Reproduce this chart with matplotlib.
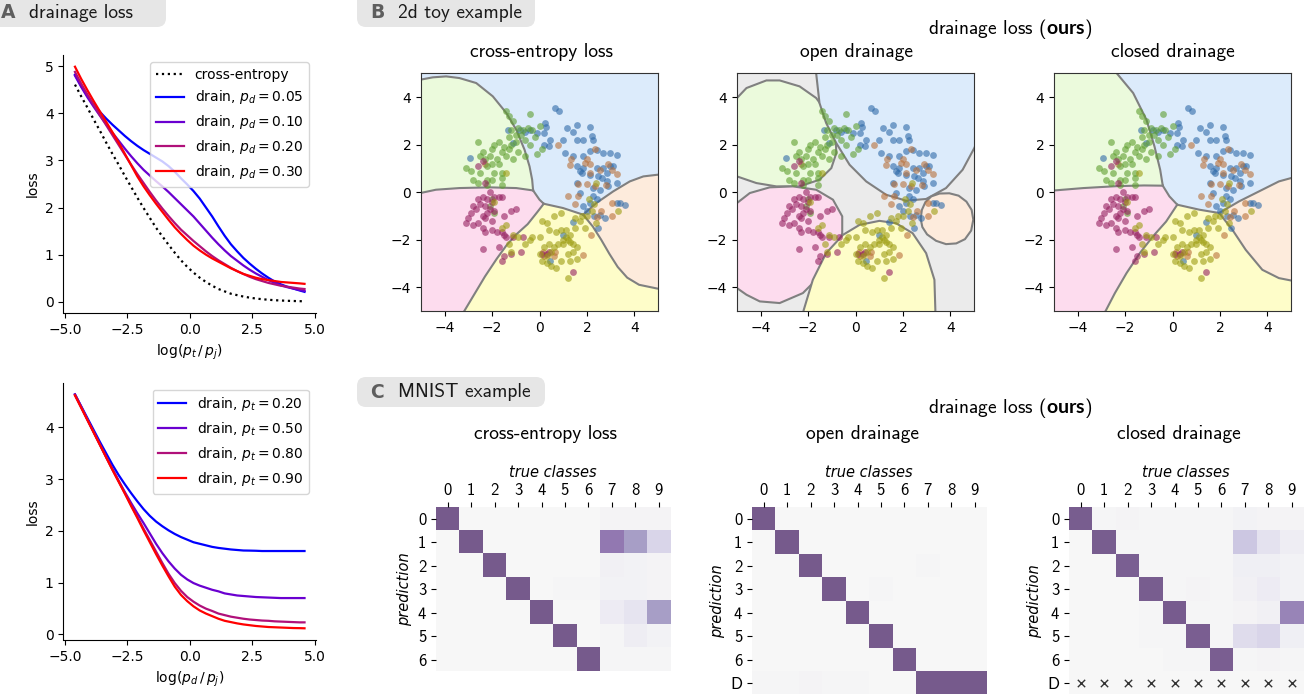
import matplotlib
matplotlib.use("Agg")
import matplotlib.pyplot as plt
from matplotlib.patches import FancyBboxPatch
from matplotlib.colors import LinearSegmentedColormap

plt.rcParams["font.family"] = "DejaVu Sans"
plt.rcParams["mathtext.fontset"] = "custom"
plt.rcParams["mathtext.rm"] = "DejaVu Sans"
plt.rcParams["mathtext.it"] = "DejaVu Sans:italic"
plt.rcParams["mathtext.bf"] = "Lato:bold"

W, H = 1313, 694
TITLE_FONT = "cmss10"

# ---------------- panel A: loss curves ----------------
log_ratio = [-4.6, -4.35, -4.1, -3.85, -3.6, -3.35, -3.1, -2.85, -2.6, -2.35, -2.1, -1.85, -1.6,
             -1.35, -1.1, -0.85, -0.6, -0.35, -0.1, 0.15, 0.4, 0.65, 0.9, 1.15, 1.4, 1.65, 1.9,
             2.15, 2.4, 2.65, 2.9, 3.15, 3.4, 3.65, 3.9, 4.15, 4.4, 4.6]
ce_loss = [4.61, 4.36, 4.12, 3.87, 3.63, 3.38, 3.14, 2.91, 2.67, 2.44, 2.21, 1.99, 1.78,
           1.57, 1.39, 1.21, 1.04, 0.88, 0.74, 0.62, 0.51, 0.42, 0.34, 0.27, 0.22, 0.17, 0.14,
           0.11, 0.087, 0.068, 0.054, 0.042, 0.033, 0.026, 0.02, 0.016, 0.012, 0.01]
p_d_values = ["0.05", "0.10", "0.20", "0.30"]
drain_pd = [
    [4.82, 4.58, 4.37, 4.18, 4.03, 3.89, 3.76, 3.64, 3.52, 3.41, 3.31, 3.22, 3.14,
     3.06, 2.98, 2.88, 2.76, 2.62, 2.49, 2.35, 2.19, 2.00, 1.81, 1.60, 1.40, 1.22, 1.07,
     0.93, 0.81, 0.70, 0.60, 0.51, 0.43, 0.37, 0.32, 0.28, 0.24, 0.21],
    [4.80, 4.56, 4.34, 4.14, 3.95, 3.77, 3.59, 3.42, 3.25, 3.09, 2.94, 2.80, 2.68,
     2.56, 2.45, 2.33, 2.20, 2.07, 1.94, 1.81, 1.66, 1.51, 1.36, 1.22, 1.09, 0.97, 0.87,
     0.77, 0.68, 0.60, 0.53, 0.46, 0.40, 0.35, 0.31, 0.28, 0.25, 0.23],
    [4.88, 4.63, 4.40, 4.18, 3.96, 3.75, 3.54, 3.33, 3.12, 2.91, 2.71, 2.52, 2.33,
     2.15, 1.98, 1.82, 1.67, 1.53, 1.41, 1.29, 1.18, 1.07, 0.97, 0.88, 0.80, 0.72, 0.65,
     0.59, 0.53, 0.48, 0.44, 0.40, 0.37, 0.34, 0.32, 0.30, 0.28, 0.27],
    [4.99, 4.73, 4.49, 4.26, 4.04, 3.82, 3.60, 3.38, 3.14, 2.90, 2.66, 2.45, 2.26,
     2.08, 1.91, 1.74, 1.58, 1.44, 1.31, 1.19, 1.09, 1.00, 0.92, 0.85, 0.78, 0.71, 0.65,
     0.59, 0.55, 0.51, 0.48, 0.46, 0.44, 0.42, 0.41, 0.40, 0.39, 0.38],
]
p_t_values = ["0.20", "0.50", "0.80", "0.90"]
drain_pt = [
    [4.64, 4.41, 4.18, 3.95, 3.72, 3.50, 3.28, 3.08, 2.90, 2.73, 2.57, 2.42, 2.29,
     2.18, 2.09, 2.01, 1.94, 1.88, 1.83, 1.78, 1.75, 1.72, 1.69, 1.67, 1.655, 1.64, 1.63,
     1.62, 1.618, 1.615, 1.61, 1.61, 1.61, 1.61, 1.61, 1.61, 1.61, 1.61],
    [4.64, 4.40, 4.15, 3.91, 3.67, 3.43, 3.20, 2.97, 2.75, 2.54, 2.34, 2.15, 1.95,
     1.75, 1.57, 1.41, 1.27, 1.15, 1.06, 0.99, 0.94, 0.90, 0.86, 0.83, 0.79, 0.77, 0.75,
     0.74, 0.73, 0.72, 0.715, 0.71, 0.705, 0.70, 0.70, 0.70, 0.70, 0.70],
    [4.63, 4.39, 4.15, 3.91, 3.67, 3.43, 3.19, 2.96, 2.73, 2.50, 2.27, 2.04, 1.82,
     1.60, 1.38, 1.17, 0.99, 0.84, 0.72, 0.63, 0.555, 0.495, 0.45, 0.40, 0.37, 0.34, 0.32,
     0.30, 0.285, 0.275, 0.265, 0.26, 0.25, 0.245, 0.24, 0.235, 0.23, 0.23],
    [4.62, 4.38, 4.14, 3.90, 3.66, 3.42, 3.18, 2.95, 2.72, 2.48, 2.25, 2.01, 1.78,
     1.55, 1.33, 1.12, 0.92, 0.76, 0.64, 0.54, 0.46, 0.40, 0.35, 0.30, 0.26, 0.235, 0.21,
     0.19, 0.175, 0.16, 0.15, 0.14, 0.135, 0.13, 0.125, 0.12, 0.118, 0.115],
]
line_colors = ["#0000ff", "#6a00d0", "#b0107a", "#ff0000"]

# ---------------- panel B: 2d toy data ----------------
blue_pts = [(0.66, 3.54), (0.84, 3.40), (0.24, 2.91), (0.28, 2.74), (1.57, 2.84), (2.13, 2.74), (1.15, 2.69),
            (1.43, 2.55), (0.17, 2.48), (-0.11, 2.48), (-0.39, 2.62), (-0.60, 2.55), (-0.81, 2.62), (0.45, 2.20),
            (1.01, 2.20), (1.57, 2.20), (1.85, 2.20), (2.27, 2.20), (2.20, 2.37), (0.17, 1.99), (0.38, 1.92),
            (1.08, 1.64), (1.43, 1.50), (1.85, 1.50), (2.13, 1.71), (2.41, 1.78), (2.69, 1.64), (2.97, 1.64),
            (3.25, 1.57), (1.57, 1.08), (1.85, 1.01), (1.71, 0.87), (1.78, 0.80), (2.13, 0.73), (2.41, 1.01),
            (2.69, 1.01), (2.83, 0.80), (2.97, 1.08), (3.11, 1.08), (2.48, 0.66), (2.62, 0.59), (2.83, 0.45),
            (2.90, 0.24), (2.27, 0.17), (2.55, 0.10), (3.25, 0.38), (1.57, 0.38), (1.71, -0.04), (2.27, -0.18),
            (2.41, -0.31), (2.13, -0.46), (1.85, -0.60), (2.00, -0.81), (3.25, -0.46), (3.40, -0.46),
            (3.61, -0.53), (2.55, -0.95), (2.76, -1.10), (2.48, -1.52), (1.43, -1.24), (0.98, -1.80),
            (0.45, -2.90), (-2.92, 1.43), (-1.35, 2.60), (-1.10, 2.05), (2.30, -1.00)]
orange_pts = [(0.78, 1.99), (1.28, 1.12), (1.91, 1.22), (2.12, 1.18), (2.02, 1.40), (2.36, 1.82), (1.63, 0.34),
              (2.33, 0.24), (2.01, 0.35), (2.15, 0.79), (2.55, 0.91), (3.07, 0.94), (3.29, 0.77), (1.22, -0.18),
              (1.63, -0.18), (3.07, -0.46), (3.08, -1.02), (2.43, -1.05), (2.19, -1.80), (1.84, -2.64),
              (0.64, -2.50), (0.15, -2.50), (2.60, -0.80), (1.50, -0.50), (2.80, 0.30), (1.35, 1.40),
              (2.90, 1.20), (0.20, -2.70), (0.60, -2.70), (-2.30, 1.20)]
green_pts = [(-1.4, 3.4), (-1.3, 3.2), (-1.1, 3.0), (-0.9, 2.7), (-0.4, 3.3), (-0.5, 2.7), (-0.3, 2.6),
             (-0.7, 2.6), (-1.2, 2.6), (-1.0, 2.4), (-1.3, 2.3), (-1.2, 2.0), (-1.0, 2.1), (-0.8, 2.4),
             (-1.5, 1.9), (-1.7, 2.1), (-1.9, 2.0), (-2.1, 1.5), (-2.3, 1.4), (-2.5, 1.5), (-2.0, 1.8),
             (-1.6, 1.7), (-1.4, 1.5), (-1.1, 1.4), (-1.8, 1.4), (-2.0, 1.2), (-2.2, 1.1), (-2.6, 2.1),
             (-2.9, 0.9), (-3.1, 1.0), (-2.8, 0.5), (-2.6, 0.4), (-2.2, 0.5), (-2.0, 0.5), (-2.5, 0.8),
             (-1.9, 0.8), (-1.6, 0.8), (-1.6, 0.6), (-1.6, 0.3), (-2.2, 0.3), (-0.1, 1.6), (-0.6, 1.5),
             (0.1, 1.8), (-0.4, 2.0), (-0.9, 1.7), (-2.0, -0.3), (-2.1, -0.6), (-1.9, -0.9), (-1.7, 1.2),
             (-2.4, 1.7), (-1.3, 1.8), (-0.6, 2.2), (0.0, 2.8), (-0.2, 2.3)]
magenta_pts = [(-2.4, 1.3), (-2.6, 1.1), (-2.3, 0.4), (-2.4, -0.2), (-2.6, -0.3), (-2.2, -0.3), (-2.0, -0.4),
               (-1.9, -0.2), (-1.7, -0.2), (-1.6, -0.2), (-2.5, -0.5), (-2.3, -0.6), (-2.1, -0.7),
               (-1.9, -0.8), (-2.2, -0.9), (-2.7, -0.7), (-2.9, -0.9), (-3.0, -1.1), (-2.6, -1.3),
               (-2.3, -1.1), (-2.0, -1.2), (-1.5, -1.0), (-1.2, -0.8), (-1.0, -0.7), (-2.8, -1.4),
               (-2.4, -1.5), (-2.0, -1.6), (-1.8, -1.7), (-1.6, -1.7), (-1.5, -1.8), (-1.4, -1.9),
               (-2.3, -1.7), (-1.1, -1.9), (-0.7, -1.9), (-2.4, -2.4), (-1.7, -2.3), (-1.5, -2.7),
               (-1.2, -2.6), (-0.8, -2.5), (-1.6, -2.9), (-3.1, -1.3), (-2.8, -0.6), (-2.4, -1.0),
               (0.1, -2.6), (0.3, -2.6), (0.4, -2.5), (1.4, -3.35), (-2.1, 0.0)]
olive_pts = [(-1.6, -1.5), (-1.4, -1.4), (-1.1, -1.8), (-0.9, -1.9), (-1.3, -2.2), (-1.2, -2.5), (-0.6, -2.2),
             (-0.3, -1.9), (0.0, -1.9), (0.1, -1.2), (0.3, -1.3), (0.6, -1.0), (0.9, -0.9), (0.4, -1.6),
             (0.7, -1.7), (0.9, -1.6), (1.1, -1.6), (1.3, -1.8), (1.5, -1.5), (1.7, -1.2), (1.5, -1.1),
             (1.8, -1.0), (2.0, -1.0), (2.2, -0.8), (1.9, -1.5), (1.0, -2.0), (1.2, -2.0), (1.4, -2.2),
             (1.6, -2.3), (1.0, -2.2), (0.8, -2.2), (0.6, -2.3), (0.4, -2.2), (0.2, -2.3), (0.5, -2.5),
             (0.3, -2.7), (0.1, -2.9), (0.0, -2.6), (0.9, -2.9), (1.2, -2.6), (1.4, -2.5), (1.3, -2.9),
             (1.6, -2.8), (1.2, -3.6), (0.5, -3.1), (0.3, -3.0), (2.3, -0.5), (2.1, -0.3), (2.4, 0.4),
             (3.3, -0.8), (-1.4, 0.8), (0.7, -3.2), (1.1, -1.9), (1.3, -2.1), (-1.9, -0.4), (-0.4, -2.0),
             (2.4, -1.3)]
point_sets = [blue_pts, orange_pts, green_pts, magenta_pts, olive_pts]
point_colors = ["#2f6aa8", "#b8703a", "#5e9e2e", "#94205f", "#9c9c10"]

region_colors = {"blue": "#dcebfb", "green": "#ebfadc", "pink": "#fddcee",
                 "yellow": "#fefdc9", "peach": "#fdebdc", "drain": "#ebebeb"}

# decision boundaries, cross-entropy model
ce_bounds = {
    "gb": [(-6, 4.6), (-5.03, 4.73), (-4.5, 4.83), (-3.94, 4.87), (-3.38, 4.80), (-2.67, 4.59), (-1.97, 4.03),
           (-1.40, 3.33), (-0.98, 2.62), (-0.63, 1.78), (-0.42, 1.08), (-0.31, 0.52), (-0.27, 0.07)],
    "gp": [(-6, -0.15), (-5.03, -0.04), (-4.37, 0.10), (-3.38, 0.17), (-2.11, 0.20), (-0.98, 0.17), (-0.27, 0.07)],
    "jj": [(-0.27, 0.07), (0.0, -0.32), (0.18, -0.49)],
    "py": [(0.18, -0.49), (-0.1, -0.85), (-0.5, -1.35), (-1.0, -1.8), (-1.4, -2.25), (-1.8, -2.8),
           (-2.3, -3.55), (-2.75, -4.3), (-3.17, -5.0), (-3.8, -6.0)],
    "by": [(0.18, -0.49), (0.99, -0.67), (1.84, -0.95)],
    "bpe": [(1.84, -0.95), (2.40, -0.46), (3.11, 0.03), (3.81, 0.45), (4.38, 0.66), (4.97, 0.73), (6, 0.78)],
    "ype": [(1.84, -0.95), (2.25, -1.45), (2.6, -2.0), (2.95, -2.6), (3.3, -3.15), (3.7, -3.6), (4.2, -3.9),
            (4.97, -4.06), (6, -4.1)],
}
# decision boundaries, closed drainage model
closed_bounds = {
    "gb": [(-6, 6), (-2.7, 5.35), (-2.36, 5.01), (-1.66, 4.17), (-1.10, 3.05), (-0.76, 1.92), (-0.52, 0.94),
           (-0.41, 0.27)],
    "gp": [(-6, -0.02), (-4.98, 0.07), (-3.76, 0.17), (-2.36, 0.25), (-1.2, 0.28), (-0.41, 0.27)],
    "jj": [(-0.41, 0.27), (-0.13, -0.18), (0.20, -0.53)],
    "py": [(0.20, -0.53), (-0.27, -1.24), (-0.83, -1.87), (-1.38, -2.57), (-1.94, -3.41), (-2.43, -4.25),
           (-2.81, -4.98), (-3.4, -6)],
    "by": [(0.20, -0.53), (1.13, -0.74), (1.97, -0.88)],
    "bpe": [(1.97, -0.88), (2.81, -0.39), (3.65, 0.03), (4.49, 0.45), (5.0, 0.59), (6, 0.8)],
    "ype": [(1.97, -0.88), (2.53, -1.59), (3.09, -2.43), (3.79, -3.27), (4.49, -3.62), (5.0, -3.72), (6, -3.8)],
}
# open drainage: class regions are closed blobs, the rest is drained
open_blobs = {
    "green": [(-6, 3.9), (-5.0, 3.96), (-4.6, 4.38), (-3.76, 4.70), (-3.2, 4.70), (-2.36, 4.45), (-1.66, 3.96),
              (-1.09, 3.19), (-0.84, 2.34), (-0.81, 1.64), (-1.02, 1.01), (-1.52, 0.52), (-2.36, 0.24),
              (-3.34, 0.24), (-4.18, 0.38), (-5.0, 0.66), (-6, 0.8)],
    "pink": [(-6, -0.6), (-5.0, -0.46), (-4.46, -0.04), (-3.62, 0.20), (-2.64, 0.24), (-1.66, 0.10),
             (-0.95, -0.32), (-0.56, -1.02), (-0.56, -1.73), (-0.81, -2.57), (-1.38, -3.41), (-2.22, -4.25),
             (-3.2, -4.67), (-4.04, -4.60), (-4.6, -4.32), (-5.0, -4.04), (-6, -3.5)],
    "yellow": [(-2.35, -6), (-2.19, -4.98), (-1.80, -3.69), (-1.24, -2.57), (-0.53, -1.80), (0.17, -1.38),
               (1.01, -1.21), (1.71, -1.31), (2.41, -1.73), (2.98, -2.57), (3.33, -3.69), (3.37, -4.98),
               (3.35, -6)],
    "blue": [(-1.7, 6), (-1.66, 5.0), (-1.52, 3.75), (-1.24, 2.91), (-0.81, 2.06), (-0.25, 1.15), (0.45, 0.45),
             (1.29, -0.11), (2.13, -0.36), (2.98, -0.29), (3.82, 0.17), (4.52, 0.94), (5.01, 1.85),
             (5.6, 3.2), (6, 6)],
    "peach": [(2.75, -1.12), (2.80, -0.75), (2.95, -0.42), (3.20, -0.18), (3.55, -0.06), (3.96, -0.05),
              (4.35, -0.15), (4.68, -0.40), (4.90, -0.75), (4.97, -1.16), (4.88, -1.62), (4.62, -1.98),
              (4.25, -2.16), (3.82, -2.19), (3.40, -2.05), (3.02, -1.78), (2.82, -1.47)],
}

# ---------------- panel C: MNIST confusion matrices ----------------
true_classes = ["0", "1", "2", "3", "4", "5", "6", "7", "8", "9"]
pred_ce = ["0", "1", "2", "3", "4", "5", "6"]
pred_drain = ["0", "1", "2", "3", "4", "5", "6", "D"]
ce_matrix = [
    [1, 0, 0, 0, 0, 0, 0, 0.02, 0.02, 0.02],
    [0, 1, 0, 0, 0, 0, 0, 0.55, 0.40, 0.18],
    [0, 0, 1, 0, 0, 0, 0, 0.04, 0.03, 0.02],
    [0, 0, 0, 1, 0, 0.01, 0.01, 0.03, 0.03, 0.02],
    [0, 0, 0, 0, 1, 0, 0, 0.07, 0.11, 0.40],
    [0, 0, 0, 0, 0, 1, 0, 0.01, 0.06, 0.03],
    [0, 0, 0, 0, 0, 0, 1, 0.01, 0.01, 0.01],
]
open_matrix = [
    [1, 0, 0, 0, 0, 0, 0, 0, 0, 0],
    [0, 1, 0, 0, 0, 0, 0, 0, 0, 0],
    [0, 0, 1, 0, 0, 0, 0, 0.01, 0, 0],
    [0, 0, 0, 1, 0, 0.01, 0, 0, 0, 0],
    [0, 0, 0, 0, 1, 0, 0, 0, 0, 0],
    [0, 0, 0, 0, 0, 1, 0, 0, 0, 0],
    [0, 0, 0, 0, 0, 0, 1, 0, 0, 0],
    [0.01, 0.01, 0.02, 0.01, 0.01, 0, 0, 1, 1, 1],
]
closed_matrix = [
    [0.95, 0.01, 0.02, 0.01, 0.01, 0.01, 0.01, 0.03, 0.02, 0.02],
    [0, 0.95, 0.01, 0.01, 0.01, 0.01, 0.01, 0.25, 0.12, 0.06],
    [0, 0, 0.92, 0.01, 0.01, 0.01, 0.01, 0.05, 0.05, 0.03],
    [0, 0, 0, 0.95, 0.01, 0.02, 0.01, 0.04, 0.07, 0.03],
    [0, 0, 0, 0.01, 0.97, 0.01, 0.01, 0.02, 0.04, 0.50],
    [0, 0, 0, 0.01, 0.01, 0.93, 0.01, 0.15, 0.18, 0.05],
    [0, 0, 0, 0, 0.01, 0.01, 0.93, 0.01, 0.02, 0.01],
    [0, 0, 0, 0, 0, 0, 0, 0, 0, 0],
]

cmap = LinearSegmentedColormap.from_list(
    "soft_purples", [(0, "#f7f7f7"), (0.1, "#e8e6f1"), (0.25, "#cdc8e3"), (0.4, "#a79ec6"),
                     (0.55, "#9278b1"), (1.0, "#765a8c")])


def add_axes(left, top, width, height):
    return fig.add_axes([left / W, 1 - (top + height) / H, width / W, height / H])


def pill(x0, x1, y0, y1, text_y, letter, label):
    p = FancyBboxPatch((x0 / 100, (H - y1) / 100), (x1 - x0) / 100, (y1 - y0) / 100,
                       boxstyle="round,pad=0,rounding_size=0.09", transform=fig.dpi_scale_trans,
                       fc="#e6e6e6", ec="none")
    fig.add_artist(p)
    yc = 1 - text_y / H
    fig.text((x0 + 13) / W, yc, letter, ha="left", va="center", fontsize=13.5,
             fontweight="heavy", color="#5e5e5e")
    fig.text((x0 + 41) / W, yc, label, ha="left", va="center", fontsize=14,
             family=TITLE_FONT, color="#1a1a1a")


def title(xc, yc, text):
    fig.text(xc / W, 1 - yc / H, text, ha="center", va="center", fontsize=14, family=TITLE_FONT)


def xs(pts):
    return [p[0] for p in pts]


def ys(pts):
    return [p[1] for p in pts]


fig = plt.figure(figsize=(W / 100, H / 100), dpi=100)

# ---- panel A ----
axA1 = add_axes(63.5, 55, 252.5, 258)
axA1.plot(log_ratio, ce_loss, ":", color="black", lw=1.6, label="cross-entropy")
for vals, pdv, c in zip(drain_pd, p_d_values, line_colors):
    axA1.plot(log_ratio, vals, color=c, lw=1.6, label=rf"drain, $p_d = {pdv}$")
axA1.set_ylabel("loss", fontsize=10)
axA1.set_xlabel(r"$\log(p_t\,/\,p_j)$", fontsize=10)
axA1.legend(loc="upper right", fontsize=10)

axA2 = add_axes(63.5, 382.7, 252.5, 257.3)
for vals, ptv, c in zip(drain_pt, p_t_values, line_colors):
    axA2.plot(log_ratio, vals, color=c, lw=1.6, label=rf"drain, $p_t = {ptv}$")
axA2.set_ylabel("loss", fontsize=10)
axA2.set_xlabel(r"$\log(p_d\,/\,p_j)$", fontsize=10)
axA2.legend(loc="upper right", fontsize=10)
axA2.set_yticks([0, 1, 2, 3, 4])

for ax in (axA1, axA2):
    ax.set_xticks([-5, -2.5, 0, 2.5, 5])
    ax.spines[["top", "right"]].set_visible(False)
    ax.tick_params(labelsize=10)


# ---- panel B ----
def draw_partition(ax, b):
    green = b["gb"] + b["gp"][::-1]
    pink = b["gp"] + b["jj"][1:] + b["py"][1:] + [(-6, -6)]
    yellow = b["by"] + b["ype"][1:] + [(6, -6)] + b["py"][::-1]
    peach = b["bpe"] + b["ype"][::-1]
    ax.set_facecolor(region_colors["blue"])
    for poly, key in ((green, "green"), (pink, "pink"), (yellow, "yellow"), (peach, "peach")):
        ax.fill(xs(poly), ys(poly), color=region_colors[key], lw=0, zorder=0.5)
    for line in b.values():
        ax.plot(xs(line), ys(line), color="#808080", lw=1.5, zorder=1)


def draw_blobs(ax, blobs):
    ax.set_facecolor(region_colors["drain"])
    for key, poly in blobs.items():
        ax.fill(xs(poly), ys(poly), fc=region_colors[key], ec="#808080", lw=1.5, zorder=0.5)


b_lefts = [421, 737, 1054]
b_axes = [add_axes(l, 73.3, 237, 237.6) for l in b_lefts]
draw_partition(b_axes[0], ce_bounds)
draw_blobs(b_axes[1], open_blobs)
draw_partition(b_axes[2], closed_bounds)
for ax in b_axes:
    for pts, c in zip(point_sets, point_colors):
        ax.scatter(xs(pts), ys(pts), s=24, color=c, alpha=0.6, linewidths=0, zorder=2)
    ax.set_xlim(-5, 5)
    ax.set_ylim(-5, 5)
    ax.set_xticks([-4, -2, 0, 2, 4])
    ax.set_yticks([-4, -2, 0, 2, 4])
    ax.tick_params(labelsize=10)
    for s in ax.spines.values():
        s.set_color("#333333")

title(542, 52, "cross-entropy loss")
title(856, 52, "open drainage")
title(1173, 52, "closed drainage")
title(1010, 29, r"drainage loss ($\mathbf{ours}$)")

# ---- panel C ----
cell = 23.45


def draw_matrix(ax, matrix, rows):
    ax.imshow(matrix, cmap=cmap, vmin=0, vmax=1, aspect="auto", interpolation="nearest")
    ax.xaxis.tick_top()
    ax.xaxis.set_label_position("top")
    ax.set_xticks(range(len(true_classes)))
    ax.set_xticklabels(true_classes, family=TITLE_FONT, fontsize=12)
    ax.set_yticks(range(len(rows)))
    ax.set_yticklabels(rows, family=TITLE_FONT, fontsize=12)
    ax.set_xlabel("true classes", style="italic", fontsize=10.5)
    ax.set_ylabel("prediction", style="italic", fontsize=10.5)
    for s in ax.spines.values():
        s.set_visible(False)


axC1 = add_axes(436, 507.3, 10 * cell, 7 * cell)
draw_matrix(axC1, ce_matrix, pred_ce)
axC2 = add_axes(752, 507.3, 10 * cell, 8 * cell)
draw_matrix(axC2, open_matrix, pred_drain)
axC3 = add_axes(1069, 507.3, 10 * cell, 8 * cell)
draw_matrix(axC3, closed_matrix, pred_drain)
axC3.scatter(range(len(true_classes)), [len(pred_drain) - 1] * len(true_classes),
             marker="x", s=28, color="#333333", linewidths=1.0)

title(546, 434, "cross-entropy loss")
title(862, 434, "open drainage")
title(1179, 434, "closed drainage")
title(1010, 408, r"drainage loss ($\mathbf{ours}$)")

# panel labels
pill(-12, 166, -12, 27, 13, "A", "drainage loss")
pill(357, 535, -12, 27, 13, "B", "2d toy example")
pill(357, 545, 377, 407, 392, "C", "MNIST example")

fig.savefig("out.png", dpi=100)
